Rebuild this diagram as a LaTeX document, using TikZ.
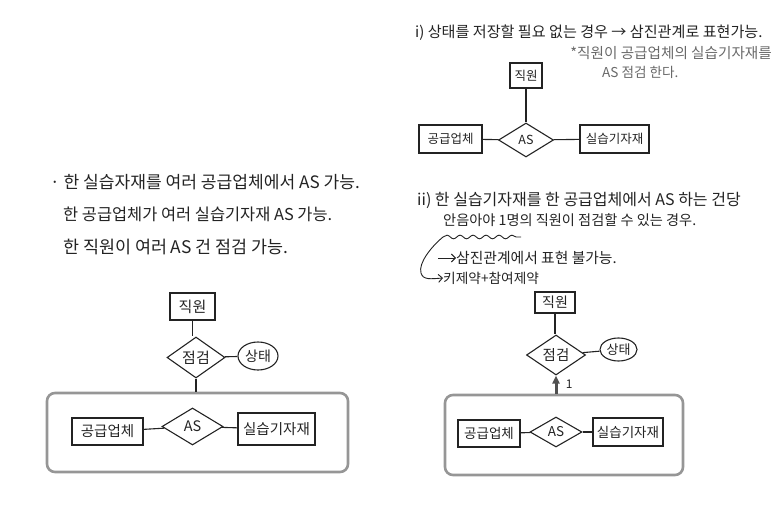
\documentclass[tikz,border=0pt]{standalone}
\usepackage{fontspec}
\setmainfont{Noto Sans CJK KR}
\usepackage{xcolor}
\definecolor{inkblack}{RGB}{35,35,35}
\definecolor{notegray}{RGB}{105,105,105}
\definecolor{pencilgray}{RGB}{150,150,150}
\definecolor{arrowgray}{RGB}{80,80,80}
\usepackage{tikz}
\usetikzlibrary{arrows.meta,positioning,shapes.geometric,decorations.pathmorphing}
\newcommand{\fsz}[1]{\fontsize{#1}{#1}\selectfont}
\tikzset{
  er entity/.style={draw=inkblack, line width=1.1pt, inner sep=0pt, text=inkblack},
  er relation/.style={draw=inkblack, diamond, line width=1.1pt, inner sep=0pt, text=inkblack},
  er attribute/.style={draw=inkblack, ellipse, line width=1.1pt, inner sep=0pt, text=inkblack},
  er group/.style={draw=pencilgray, rounded corners=8pt, line width=2.6pt, inner sep=0pt},
  er link/.style={draw=inkblack, line width=1.1pt},
  er note/.style={anchor=west, inner sep=0pt, text=inkblack},
  er remark/.style={anchor=west, inner sep=0pt, text=notegray},
  er pointer/.style={-{Straight Barb[length=4pt]}, line width=0.9pt, draw=inkblack},
  er wave/.style={decorate, decoration={snake, amplitude=1.8pt, segment length=13pt}, line width=0.9pt, draw=inkblack},
  er total/.style={-{Triangle[length=8pt, width=7pt]}, line width=3pt, draw=arrowgray},
}

\begin{document}
\begin{tikzpicture}[x=1pt, y=-1pt]
  \useasboundingbox (0,0) rectangle (782,508);
  \node[er note, font=\fsz{15.1}] (rnote1) at (415,33) {i) 상태를 저장할 필요 없는 경우 → 삼진관계로 표현가능.};
  \node[er remark, font=\fsz{14.6}, anchor=east] (rnote2) at (772,53) {*직원이 공급업체의 실습기자재를};
  \node[er remark, font=\fsz{13.6}] (rnote3) at (602,72) {AS 점검 한다.};
  \node[er entity, font=\fsz{12.5}, minimum width=32pt, minimum height=25pt] (tr-emp) at (526,75.5) {직원};
  \node[er relation, font=\fsz{12.5}, minimum width=55pt, minimum height=34pt] (tr-as) at (526,140) {AS};
  \node[er entity, font=\fsz{12.5}, minimum width=63pt, minimum height=28pt] (tr-sup) at (450.5,139) {공급업체};
  \node[er entity, font=\fsz{12.5}, minimum width=69pt, minimum height=28pt] (tr-eq) at (614.5,139) {실습기자재};
  \draw[er link] (tr-emp) -- (tr-as);
  \draw[er link] (tr-sup) -- (tr-as);
  \draw[er link] (tr-as) -- (tr-eq);

  \node[er note, font=\fsz{16}] (rnote4) at (417,200) {ii) 한 실습기자재를 한 공급업체에서 AS 하는 건당};
  \node[er note, font=\fsz{14.2}] (rnote5) at (443,220) {안음아야 1명의 직원이 점검할 수 있는 경우.};
  \node[er note, font=\fsz{14.8}] (rnote6) at (456,258) {삼진관계에서 표현 불가능.};
  \node[er note, font=\fsz{13.7}] (rnote7) at (443,278) {키제약+참여제약};
  \coordinate (wave-a) at (443,237);
  \coordinate (wave-b) at (521,237);
  \coordinate (branch) at (438,258);
  \draw[er wave] (wave-a) -- (wave-b);
  \draw[er pointer] (wave-a) .. controls (432,246) and (418,263) .. (421,273) .. controls (423,280) and (430,279) .. (rnote7.west);
  \draw[er pointer] (branch) -- (rnote6.west);

  \node[er note, font=\fsz{17.1}] (lnote1) at (50,182) {· 한 실습자재를 여러 공급업체에서 AS 가능.};
  \node[er note, font=\fsz{16.4}] (lnote2) at (63,214) {한 공급업체가 여러 실습기자재 AS 가능.};
  \node[er note, font=\fsz{17.4}] (lnote3) at (63,247) {한 직원이 여러 AS 건 점검 가능.};

  \node[er entity, font=\fsz{15}, minimum width=45pt, minimum height=27pt] (ll-emp) at (192.5,306.5) {직원};
  \node[er relation, font=\fsz{15}, minimum width=58pt, minimum height=39pt] (ll-chk) at (196,357.5) {점검};
  \node[er attribute, font=\fsz{14}, minimum width=40pt, minimum height=28pt] (ll-st) at (258,356) {상태};
  \node[er group, minimum width=301pt, minimum height=79pt] (ll-agg) at (197.5,432.5) {};
  \node[er entity, font=\fsz{14.5}, minimum width=71pt, minimum height=27pt] (ll-sup) at (107.5,431.5) {공급업체};
  \node[er relation, font=\fsz{14.5}, minimum width=61pt, minimum height=37pt] (ll-as) at (192.5,426.5) {AS};
  \node[er entity, font=\fsz{14.5}, minimum width=77pt, minimum height=32pt] (ll-eq) at (276.5,429) {실습기자재};
  \draw[er link] (ll-emp.south) -- (ll-emp.south |- ll-chk.north);
  \draw[er link] (ll-chk) -- (ll-st);
  \draw[er link] (ll-chk.south) -- (ll-chk.south |- ll-agg.north);
  \draw[er link] (ll-sup) -- (ll-as);
  \draw[er link] (ll-as) -- (ll-eq);

  \node[er entity, font=\fsz{14}, minimum width=40pt, minimum height=21pt] (lr-emp) at (555,302.5) {직원};
  \node[er relation, font=\fsz{14.5}, minimum width=59pt, minimum height=40pt] (lr-chk) at (556,355) {점검};
  \node[er attribute, font=\fsz{13}, minimum width=37pt, minimum height=23pt] (lr-st) at (618.5,349.5) {상태};
  \node[er group, minimum width=238pt, minimum height=80pt] (lr-agg) at (564,435) {};
  \node[er entity, font=\fsz{13.5}, minimum width=62pt, minimum height=27pt] (lr-sup) at (489,433.5) {공급업체};
  \node[er relation, font=\fsz{13.5}, minimum width=52pt, minimum height=30pt] (lr-as) at (556,432) {AS};
  \node[er entity, font=\fsz{13.5}, minimum width=70pt, minimum height=28pt] (lr-eq) at (628,432) {실습기자재};
  \draw[er link] (lr-emp.south) -- (lr-emp.south |- lr-chk.north);
  \draw[er link] (lr-chk) -- (lr-st);
  \draw[er total] (lr-chk.south |- lr-agg.north) -- node[right=5pt, text=inkblack, font=\fsz{12}] {1} (lr-chk.south);
  \draw[er link] (lr-sup) -- (lr-as);
  \draw[er link] (lr-as) -- (lr-eq);
\end{tikzpicture}
\end{document}
